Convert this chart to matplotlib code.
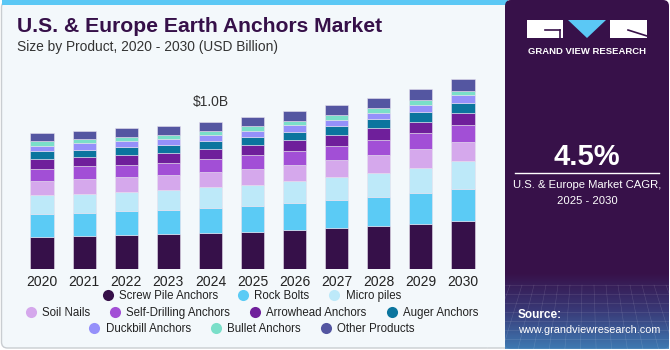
import matplotlib
matplotlib.use("Agg")
import matplotlib.pyplot as plt
import numpy as np
from matplotlib.patches import FancyBboxPatch, Rectangle, Polygon
from matplotlib.lines import Line2D

plt.rcParams['font.family'] = ['Liberation Sans', 'DejaVu Sans']

# data (USD Billion)
years = ['2020', '2021', '2022', '2023', '2024', '2025', '2026', '2027', '2028', '2029', '2030']
screw_pile = [0.215, 0.222, 0.229, 0.235, 0.242, 0.249, 0.262, 0.276, 0.292, 0.305, 0.324]
rock_bolts = [0.161, 0.161, 0.165, 0.165, 0.174, 0.181, 0.183, 0.190, 0.199, 0.210, 0.222]
micro_piles = [0.127, 0.129, 0.129, 0.136, 0.138, 0.143, 0.152, 0.158, 0.163, 0.174, 0.186]
soil_nails = [0.097, 0.100, 0.100, 0.100, 0.102, 0.106, 0.106, 0.113, 0.118, 0.124, 0.129]
self_drilling = [0.081, 0.084, 0.086, 0.086, 0.093, 0.093, 0.100, 0.100, 0.106, 0.109, 0.120]
arrowhead = [0.066, 0.063, 0.068, 0.066, 0.063, 0.070, 0.070, 0.072, 0.077, 0.079, 0.079]
auger = [0.052, 0.052, 0.052, 0.057, 0.059, 0.057, 0.059, 0.063, 0.063, 0.066, 0.068]
duckbill = [0.038, 0.043, 0.038, 0.041, 0.036, 0.041, 0.043, 0.043, 0.043, 0.048, 0.050]
bullet = [0.029, 0.029, 0.029, 0.027, 0.032, 0.032, 0.029, 0.029, 0.032, 0.032, 0.032]
other = [0.057, 0.057, 0.061, 0.061, 0.061, 0.061, 0.066, 0.070, 0.070, 0.072, 0.077]

series = [
    ("Screw Pile Anchors", screw_pile, "#361049"),
    ("Rock Bolts", rock_bolts, "#5BCBF5"),
    ("Micro piles", micro_piles, "#BDE9F9"),
    ("Soil Nails", soil_nails, "#D5A8EC"),
    ("Self-Drilling Anchors", self_drilling, "#A24FD6"),
    ("Arrowhead Anchors", arrowhead, "#6F1F9B"),
    ("Auger Anchors", auger, "#0B759E"),
    ("Duckbill Anchors", duckbill, "#9590FA"),
    ("Bullet Anchors", bullet, "#7ADFC9"),
    ("Other Products", other, "#5456A1"),
]
legend_rows = [[0, 1, 2], [3, 4, 5, 6], [7, 8, 9]]

W, H = 670, 350
fig = plt.figure(figsize=(W / 100, H / 100), dpi=100)
fig.patch.set_facecolor("white")

# background / decoration layer in pixel coords
bg = fig.add_axes([0, 0, 1, 1], zorder=0)
bg.set_xlim(0, W)
bg.set_ylim(H, 0)
bg.axis("off")

bg.add_patch(FancyBboxPatch((1.5, 1.5), 510, 346.5, boxstyle="round,pad=0,rounding_size=6",
                            facecolor="#F3F8FB", edgecolor="#C9CDD1", lw=1))
bg.add_patch(Rectangle((1.5, 0), 506, 5, facecolor="#5BC8F5", edgecolor="none"))

# right panel
bg.add_patch(FancyBboxPatch((505, 0), 164, 349, boxstyle="round,pad=0,rounding_size=6",
                            facecolor="#371149", edgecolor="none"))
grad = np.linspace(0, 1, 100)[:, None]
cmap = matplotlib.colors.LinearSegmentedColormap.from_list("g", ["#371149", "#3A3C7A", "#3F7FB8"])
bg.imshow(grad, extent=(505, 669, 349, 272), cmap=cmap, aspect="auto", zorder=1, alpha=0.95)
for yy in np.arange(285, 349, 9):
    bg.plot([505, 669], [yy, yy], color="white", lw=0.4, alpha=0.15, zorder=2)
for xx in np.arange(510, 669, 12):
    bg.plot([xx, xx + (xx - 587) * 0.3], [285, 349], color="white", lw=0.4, alpha=0.15, zorder=2)

# logo
bg.add_patch(Rectangle((527, 20), 36, 18, facecolor="white", zorder=3))
bg.plot([545, 560], [30, 30], color="#371149", lw=1.2, zorder=4)
bg.plot([560, 560], [30, 38], color="#371149", lw=1.2, zorder=4)
bg.add_patch(Polygon([(568, 20), (606, 20), (587, 38)], facecolor="#5BC8F5", zorder=3))
bg.add_patch(Rectangle((610, 20), 37, 18, facecolor="white", zorder=3))
bg.plot([628, 647], [30, 36], color="#371149", lw=1.2, zorder=4)
bg.text(587, 51, "GRAND VIEW RESEARCH", color="white", fontsize=6.8, fontweight="bold",
        ha="center", va="center", zorder=4)

bg.text(587, 157, "4.5%", color="white", fontsize=21, fontweight="bold", ha="center", va="center", zorder=4)
bg.plot([515, 659], [173, 173], color="white", lw=1, zorder=4)
bg.text(587, 185, "U.S. & Europe Market CAGR,", color="white", fontsize=8.1, ha="center", va="center", zorder=4)
bg.text(587, 201, "2025 - 2030", color="white", fontsize=8.1, ha="center", va="center", zorder=4)
bg.text(518, 315, "Source:", color="white", fontsize=8.5, fontweight="bold", ha="left", va="center", zorder=4)
bg.text(518, 330, "www.grandviewresearch.com", color="white", fontsize=7.8, ha="left", va="center", zorder=4)

# titles
bg.text(17, 27, "U.S. & Europe Earth Anchors Market", color="#361049", fontsize=15.2,
        fontweight="bold", ha="left", va="center")
bg.text(17, 47, "Size by Product, 2020 - 2030 (USD Billion)", color="#333333", fontsize=9.9,
        ha="left", va="center")

# chart
ax = fig.add_axes([21 / W, 81 / H, 463 / W, 209 / H], zorder=2)
ax.patch.set_alpha(0)
x = np.arange(len(years))
bottom = np.zeros(len(years))
for name, vals, col in series:
    ax.bar(x, vals, width=0.55, bottom=bottom, color=col, edgecolor="#E6E0EE", linewidth=0.4)
    bottom += np.array(vals)
ax.set_xlim(-0.5, len(years) - 0.5)
ax.set_ylim(0, 1.419)
ax.set_xticks(x)
ax.set_xticklabels(years, fontsize=10, color="#222222")
ax.tick_params(axis="x", length=0, pad=4)
ax.set_yticks([])
for s in ax.spines.values():
    s.set_visible(False)

ax.annotate("$1.0B", (4, bottom[4]), xytext=(0, 14.4), textcoords="offset points",
            ha="center", va="center", fontsize=10, color="#333333")

# legend, three centred rows
row_y = [296, 313, 329]
for ry, row in zip(row_y, legend_rows):
    handles = [Line2D([], [], marker="o", linestyle="none", markersize=8,
                      markerfacecolor=series[i][2], markeredgecolor="none") for i in row]
    labels = [series[i][0] for i in row]
    fig.legend(handles, labels, loc="center", bbox_to_anchor=(252 / W, 1 - ry / H),
               ncol=len(row), frameon=False, fontsize=8.3, handlelength=0.8,
               handletextpad=0.56, columnspacing=1.78, borderpad=0, labelcolor="#222222")

fig.savefig("out.png", dpi=100, facecolor="white")
